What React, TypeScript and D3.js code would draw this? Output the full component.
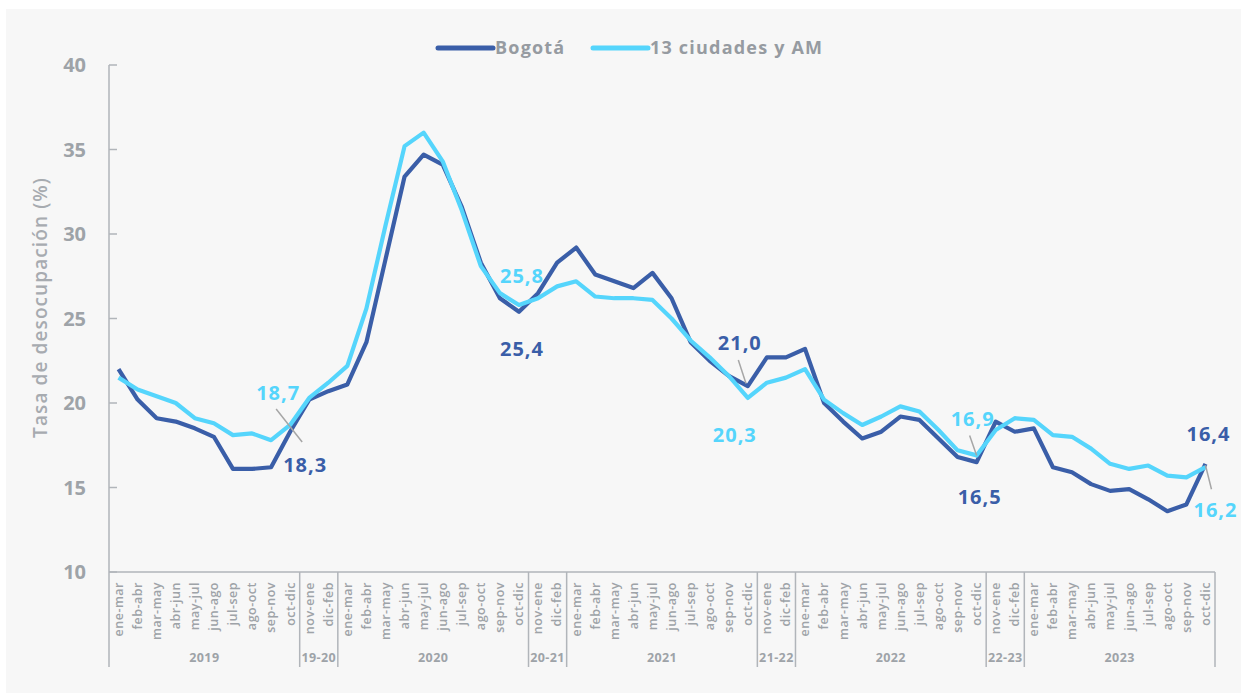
import * as d3 from "d3";

const W = 1241;
const H = 693;

// period labels inside one calendar year, and the two that bridge two years
const yearPeriods = ["ene-mar", "feb-abr", "mar-may", "abr-jun", "may-jul", "jun-ago", "jul-sep", "ago-oct", "sep-nov", "oct-dic"];
const bridgePeriods = ["nov-ene", "dic-feb"];

const groups = [
  { name: "2019", periods: yearPeriods },
  { name: "19-20", periods: bridgePeriods },
  { name: "2020", periods: yearPeriods },
  { name: "20-21", periods: bridgePeriods },
  { name: "2021", periods: yearPeriods },
  { name: "21-22", periods: bridgePeriods },
  { name: "2022", periods: yearPeriods },
  { name: "22-23", periods: bridgePeriods },
  { name: "2023", periods: yearPeriods },
];

const categories = groups.flatMap((g) => g.periods);

const bogota = [
  22.0, 20.2, 19.1, 18.9, 18.5, 18.0, 16.1, 16.1, 16.2, 18.3,
  20.2, 20.7,
  21.1, 23.6, 28.5, 33.4, 34.7, 34.1, 31.6, 28.3, 26.2, 25.4,
  26.5, 28.3,
  29.2, 27.6, 27.2, 26.8, 27.7, 26.2, 23.6, 22.5, 21.6, 21.0,
  22.7, 22.7,
  23.2, 20.0, 18.9, 17.9, 18.3, 19.2, 19.0, 17.9, 16.8, 16.5,
  18.9, 18.3,
  18.5, 16.2, 15.9, 15.2, 14.8, 14.9, 14.3, 13.6, 14.0, 16.4,
];

const ciudades = [
  21.5, 20.8, 20.4, 20.0, 19.1, 18.8, 18.1, 18.2, 17.8, 18.7,
  20.3, 21.2,
  22.2, 25.6, 30.5, 35.2, 36.0, 34.3, 31.4, 28.1, 26.5, 25.8,
  26.2, 26.9,
  27.2, 26.3, 26.2, 26.2, 26.1, 25.0, 23.7, 22.7, 21.6, 20.3,
  21.2, 21.5,
  22.0, 20.2, 19.4, 18.7, 19.2, 19.8, 19.5, 18.4, 17.2, 16.9,
  18.4, 19.1,
  19.0, 18.1, 18.0, 17.3, 16.4, 16.1, 16.3, 15.7, 15.6, 16.2,
];

const yTicks = [10, 15, 20, 25, 30, 35, 40];

const series = [
  { name: "Bogotá", values: bogota, color: "#3a5ea8" },
  { name: "13 ciudades y AM", values: ciudades, color: "#55d5fc" },
];

// labelled points: series index, category index, text offset, optional leader line
const notes = [
  { s: 1, i: 9, dx: -12, dy: -32, line: [-14, -16, 12, 17] },
  { s: 0, i: 9, dx: 15, dy: 33 },
  { s: 1, i: 21, dx: 3, dy: -29 },
  { s: 0, i: 21, dx: 3, dy: 37 },
  { s: 0, i: 33, dx: -8, dy: -43, line: [-9.5, -26, -1.8, -2.7] },
  { s: 1, i: 33, dx: -13, dy: 37 },
  { s: 1, i: 45, dx: -4, dy: -37, line: [-7, -20, 0, 0] },
  { s: 0, i: 45, dx: 3, dy: 35 },
  { s: 0, i: 57, dx: 3, dy: -30 },
  { s: 1, i: 57, dx: 10, dy: 43, line: [0, -2, 6, 22] },
];

const left = 109;
const right = 1215;
const top = 65;
const bottom = 572;
const groupBottom = 667;

const font = "'Open Sans', Lato, sans-serif";
const gray = "#9ea3a8";
const axisGray = "#b1b5ba";

export default function App() {
  const x = d3
    .scaleBand<number>()
    .domain(categories.map((_, i) => i))
    .range([left, right]);
  const cx = (i: number) => (x(i) ?? 0) + x.bandwidth() / 2;
  const y = d3.scaleLinear().domain([10, 40]).range([bottom, top]);

  const line = d3
    .line<number>()
    .x((_, i) => cx(i))
    .y((v) => y(v));

  let start = 0;
  const groupSpans = groups.map((g) => {
    const s = start;
    start += g.periods.length;
    return { name: g.name, x0: x(s) ?? 0, x1: s + g.periods.length >= categories.length ? right : x(s + g.periods.length) ?? right };
  });

  const fmt = (v: number) => v.toFixed(1).replace(".", ",");

  return (
    <svg width={W} height={H} style={{ position: "absolute", left: 0, top: 0 }} fontFamily={font}>
      <rect x={0} y={0} width={W} height={H} fill="#ffffff" />
      <rect x={6} y={9} width={W - 6} height={H - 9} fill="#f7f7f7" />

      {/* legend */}
      <g fontSize={18} fontWeight={700} fill="#969ba1" letterSpacing={1.2}>
        <line x1={438} x2={493} y1={48} y2={48} stroke={series[0].color} strokeWidth={5} strokeLinecap="round" />
        <text x={495} y={48} dy="0.36em">{series[0].name}</text>
        <line x1={593} x2={648} y1={48} y2={48} stroke={series[1].color} strokeWidth={5} strokeLinecap="round" />
        <text x={650} y={48} dy="0.36em">{series[1].name}</text>
      </g>

      {/* y axis */}
      <line x1={left} x2={left} y1={top} y2={groupBottom} stroke={axisGray} strokeWidth={1.5} />
      {yTicks.map((t) => (
        <g key={t}>
          <line x1={left} x2={left + 8} y1={y(t)} y2={y(t)} stroke={axisGray} strokeWidth={1.5} />
          <text x={86} y={y(t)} dy="0.36em" textAnchor="end" fontSize={20} fontWeight={700} fill={gray}>
            {t}
          </text>
        </g>
      ))}
      <text
        transform={`translate(40,${(top + bottom) / 2 - 11}) rotate(-90)`}
        textAnchor="middle"
        dy="0.35em"
        fontSize={19}
        fontWeight={600}
        letterSpacing={1.1}
        fill="#a7abb0"
      >
        Tasa de desocupación (%)
      </text>

      {/* x axis */}
      <line x1={left} x2={right} y1={bottom} y2={bottom} stroke={axisGray} strokeWidth={1.5} />
      {groupSpans.map((g) => (
        <g key={g.name}>
          <line x1={g.x1} x2={g.x1} y1={bottom} y2={groupBottom} stroke={axisGray} strokeWidth={1.5} />
          <text x={(g.x0 + g.x1) / 2} y={658} dy="0.35em" textAnchor="middle" fontSize={12.5} fontWeight={700} letterSpacing={0.4} fill={gray}>
            {g.name}
          </text>
        </g>
      ))}
      {categories.map((c, i) => (
        <text
          key={i}
          transform={`translate(${cx(i)},582) rotate(-90)`}
          textAnchor="end"
          dy="0.35em"
          fontSize={12.5}
          fontWeight={600}
          letterSpacing={0.5}
          fill={gray}
        >
          {c}
        </text>
      ))}

      {/* series */}
      {series.map((s) => (
        <path key={s.name} d={line(s.values) ?? ""} fill="none" stroke={s.color} strokeWidth={4.2} strokeLinejoin="round" />
      ))}

      {/* value labels */}
      {notes.map((n, k) => {
        const px = cx(n.i);
        const py = y(series[n.s].values[n.i]);
        return (
          <g key={k}>
            {n.line && (
              <line
                x1={px + n.line[0]}
                y1={py + n.line[1]}
                x2={px + n.line[2]}
                y2={py + n.line[3]}
                stroke="#a6a6a6"
                strokeWidth={1.5}
              />
            )}
            <text
              x={px + n.dx}
              y={py + n.dy}
              dy="0.36em"
              textAnchor="middle"
              fontSize={20}
              fontWeight={700}
              letterSpacing={1}
              fill={series[n.s].color}
            >
              {fmt(series[n.s].values[n.i])}
            </text>
          </g>
        );
      })}
    </svg>
  );
}
